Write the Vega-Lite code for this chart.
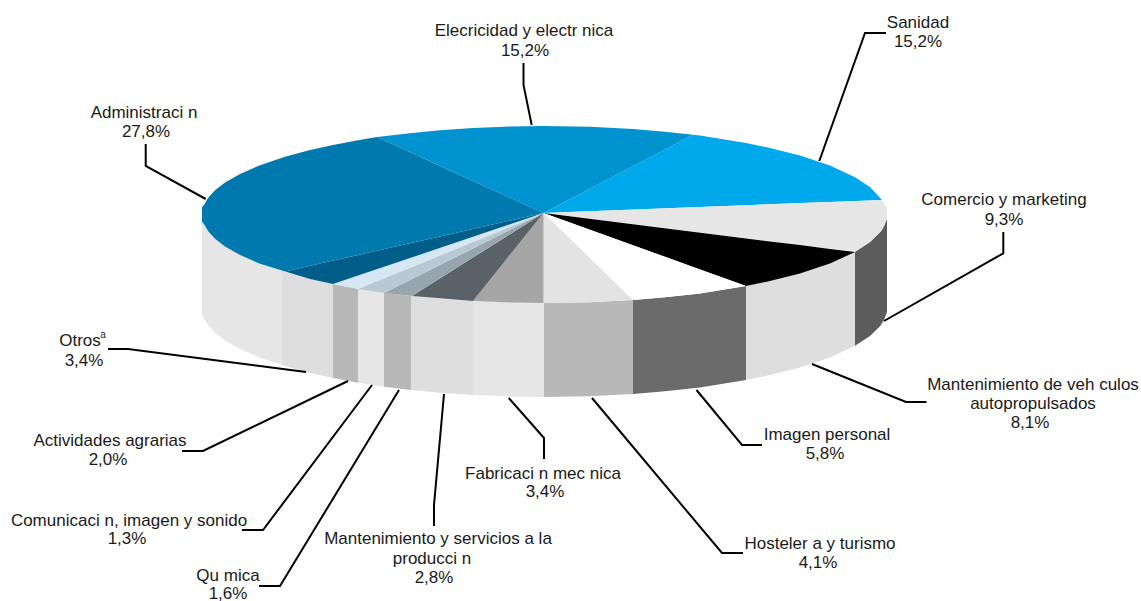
{"$schema":"https://vega.github.io/schema/vega-lite/v6.json","width":1141,"height":601,"padding":0,"autosize":{"type":"none"},"background":"white","config":{"view":{"stroke":null}},
"datasets":{
"walls":[
{"s":"w1","x":202,"y":222,"y2":315},{"s":"w1","x":204,"y":224,"y2":318},{"s":"w1","x":208,"y":231,"y2":325},{"s":"w1","x":215,"y":238.7,"y2":332.7},{"s":"w1","x":225,"y":246.4,"y2":340.4},{"s":"w1","x":240,"y":255,"y2":349},{"s":"w1","x":260,"y":263.8,"y2":357.8},{"s":"w1","x":281.5,"y":270.8,"y2":364.8},
{"s":"w2","x":281.5,"y":270.8,"y2":364.8},{"s":"w2","x":285,"y":272,"y2":366},{"s":"w2","x":310,"y":279,"y2":373},{"s":"w2","x":333,"y":284,"y2":378},
{"s":"w3","x":333,"y":284,"y2":378},{"s":"w3","x":358,"y":288.7,"y2":382.7},
{"s":"w4","x":358,"y":288.7,"y2":382.7},{"s":"w4","x":384,"y":292.7,"y2":386.7},
{"s":"w5","x":384,"y":292.7,"y2":386.7},{"s":"w5","x":411,"y":296,"y2":390},
{"s":"w6","x":411,"y":296,"y2":390},{"s":"w6","x":440,"y":298.8,"y2":392.8},{"s":"w6","x":473,"y":301.1,"y2":395.1},
{"s":"w7","x":473,"y":301.1,"y2":395.1},{"s":"w7","x":510,"y":302.5,"y2":396.5},{"s":"w7","x":544,"y":303,"y2":397},
{"s":"w8","x":544,"y":303,"y2":397},{"s":"w8","x":590,"y":302.2,"y2":396.2},{"s":"w8","x":633,"y":300,"y2":394},
{"s":"w9","x":633,"y":300,"y2":394},{"s":"w9","x":665,"y":297.3,"y2":391.3},{"s":"w9","x":700,"y":293.4,"y2":387.4},{"s":"w9","x":746,"y":286.1,"y2":380.1},
{"s":"w10","x":746,"y":286.1,"y2":380.1},{"s":"w10","x":770,"y":281.1,"y2":375},{"s":"w10","x":800,"y":273.4,"y2":367.4},{"s":"w10","x":830,"y":263.4,"y2":357.4},{"s":"w10","x":855,"y":251.8,"y2":345.8},
{"s":"w11","x":855,"y":251.8,"y2":345.8},{"s":"w11","x":870,"y":242,"y2":336},{"s":"w11","x":880,"y":232.3,"y2":326.3},{"s":"w11","x":884,"y":226.2,"y2":320},{"s":"w11","x":887,"y":218,"y2":312}
],
"slices":[
{"s":"Electricidad","x":377,"y":137,"y2":137},{"s":"Electricidad","x":412,"y":132.9,"y2":153},{"s":"Electricidad","x":440,"y":130.2,"y2":165.8},{"s":"Electricidad","x":473,"y":127.9,"y2":180.9},{"s":"Electricidad","x":510,"y":126.5,"y2":197.7},{"s":"Electricidad","x":543.5,"y":126,"y2":213},{"s":"Electricidad","x":590,"y":126.8,"y2":188.7},{"s":"Electricidad","x":633,"y":129,"y2":166.2},{"s":"Electricidad","x":665,"y":131.7,"y2":149.5},{"s":"Electricidad","x":693,"y":134.8,"y2":134.8},
{"s":"Sanidad","x":543.5,"y":213,"y2":213},{"s":"Sanidad","x":693,"y":134.8,"y2":207.3},{"s":"Sanidad","x":700,"y":135.6,"y2":207},{"s":"Sanidad","x":746,"y":142.9,"y2":205.2},{"s":"Sanidad","x":770,"y":147.9,"y2":204.3},{"s":"Sanidad","x":800,"y":155.6,"y2":203.1},{"s":"Sanidad","x":830,"y":165.6,"y2":202},{"s":"Sanidad","x":855,"y":177.2,"y2":201},{"s":"Sanidad","x":870,"y":187,"y2":200.5},{"s":"Sanidad","x":882,"y":200,"y2":200},
{"s":"Comercio","x":543.5,"y":213,"y2":213},{"s":"Comercio","x":855,"y":201,"y2":252},{"s":"Comercio","x":870,"y":200.5,"y2":242},{"s":"Comercio","x":880,"y":200.1,"y2":232.3},{"s":"Comercio","x":882,"y":200,"y2":230},{"s":"Comercio","x":884,"y":203,"y2":226.2},{"s":"Comercio","x":887,"y":208,"y2":219},
{"s":"Vehiculos","x":543.5,"y":213,"y2":213},{"s":"Vehiculos","x":746,"y":238.4,"y2":286.1},{"s":"Vehiculos","x":770,"y":241.4,"y2":281.1},{"s":"Vehiculos","x":800,"y":245.1,"y2":273.4},{"s":"Vehiculos","x":830,"y":248.9,"y2":263.4},{"s":"Vehiculos","x":855,"y":252,"y2":252},
{"s":"Imagen","x":543.5,"y":213,"y2":213},{"s":"Imagen","x":633,"y":245.3,"y2":300},{"s":"Imagen","x":665,"y":256.8,"y2":297.3},{"s":"Imagen","x":700,"y":269.4,"y2":293.4},{"s":"Imagen","x":746,"y":286,"y2":286},
{"s":"Hosteleria","x":543.5,"y":213,"y2":303},{"s":"Hosteleria","x":590,"y":258.2,"y2":302.2},{"s":"Hosteleria","x":633,"y":300,"y2":300},
{"s":"Fabricacion","x":473,"y":301,"y2":301},{"s":"Fabricacion","x":510,"y":254.8,"y2":302.5},{"s":"Fabricacion","x":543.5,"y":213,"y2":303},
{"s":"Servicios","x":412,"y":296,"y2":296},{"s":"Servicios","x":473,"y":257.5,"y2":301},{"s":"Servicios","x":510,"y":234.2,"y2":254.8},{"s":"Servicios","x":543.5,"y":213,"y2":213},
{"s":"Quimica","x":384,"y":293,"y2":293},{"s":"Quimica","x":412,"y":279,"y2":296},{"s":"Quimica","x":473,"y":248.4,"y2":257.5},{"s":"Quimica","x":543.5,"y":213,"y2":213},
{"s":"Comunicacion","x":358,"y":289,"y2":289},{"s":"Comunicacion","x":384,"y":278.3,"y2":293},{"s":"Comunicacion","x":412,"y":267,"y2":279},{"s":"Comunicacion","x":473,"y":241.9,"y2":248.4},{"s":"Comunicacion","x":543.5,"y":213,"y2":213},
{"s":"Agrarias","x":333,"y":284,"y2":284},{"s":"Agrarias","x":358,"y":275.6,"y2":289},{"s":"Agrarias","x":384,"y":266.8,"y2":278.3},{"s":"Agrarias","x":473,"y":236.8,"y2":241.9},{"s":"Agrarias","x":543.5,"y":213,"y2":213},
{"s":"Otros","x":285,"y":271.5,"y2":271.5},{"s":"Otros","x":310,"y":265.8,"y2":279},{"s":"Otros","x":333,"y":260.6,"y2":284},{"s":"Otros","x":358,"y":255,"y2":275.6},{"s":"Otros","x":473,"y":229,"y2":236.8},{"s":"Otros","x":543.5,"y":213,"y2":213},
{"s":"Administracion","x":202,"y":207,"y2":222},{"s":"Administracion","x":204,"y":205,"y2":224},{"s":"Administracion","x":208,"y":198,"y2":231},{"s":"Administracion","x":215,"y":190.3,"y2":238.7},{"s":"Administracion","x":225,"y":182.6,"y2":246.4},{"s":"Administracion","x":240,"y":174,"y2":255},{"s":"Administracion","x":260,"y":165.2,"y2":263.8},{"s":"Administracion","x":285,"y":156.7,"y2":271.5},{"s":"Administracion","x":310,"y":150,"y2":265.8},{"s":"Administracion","x":333,"y":144.9,"y2":260.6},{"s":"Administracion","x":358,"y":140.3,"y2":255},{"s":"Administracion","x":377,"y":137,"y2":250.7},{"s":"Administracion","x":412,"y":153,"y2":242.8},{"s":"Administracion","x":473,"y":180.9,"y2":229},{"s":"Administracion","x":510,"y":197.7,"y2":220.6},{"s":"Administracion","x":543.5,"y":213,"y2":213}
],
"leaders":[
{"n":"Electricidad","i":1,"x":523.5,"y":63},{"n":"Electricidad","i":2,"x":523.5,"y":85},{"n":"Electricidad","i":3,"x":531.7,"y":125},
{"n":"Sanidad","i":1,"x":886,"y":33},{"n":"Sanidad","i":2,"x":865,"y":33},{"n":"Sanidad","i":3,"x":819.3,"y":161},
{"n":"Administracion","i":1,"x":145.7,"y":144},{"n":"Administracion","i":2,"x":145.7,"y":166},{"n":"Administracion","i":3,"x":205.7,"y":199},
{"n":"Comercio","i":1,"x":1003.3,"y":232},{"n":"Comercio","i":2,"x":1003.3,"y":253.3},{"n":"Comercio","i":3,"x":884,"y":321},
{"n":"Vehiculos","i":1,"x":926.5,"y":402},{"n":"Vehiculos","i":2,"x":906,"y":402},{"n":"Vehiculos","i":3,"x":812,"y":364},
{"n":"Imagen","i":1,"x":762,"y":445},{"n":"Imagen","i":2,"x":742,"y":445},{"n":"Imagen","i":3,"x":696.5,"y":390},
{"n":"Hosteleria","i":1,"x":743,"y":553},{"n":"Hosteleria","i":2,"x":722,"y":553},{"n":"Hosteleria","i":3,"x":592,"y":398},
{"n":"Fabricacion","i":1,"x":544,"y":459},{"n":"Fabricacion","i":2,"x":544,"y":438},{"n":"Fabricacion","i":3,"x":508.7,"y":398},
{"n":"Servicios","i":1,"x":434,"y":526},{"n":"Servicios","i":2,"x":434,"y":505},{"n":"Servicios","i":3,"x":444,"y":394},
{"n":"Quimica","i":1,"x":259,"y":586},{"n":"Quimica","i":2,"x":280,"y":586},{"n":"Quimica","i":3,"x":399,"y":390},
{"n":"Comunicacion","i":1,"x":242,"y":530},{"n":"Comunicacion","i":2,"x":263,"y":530},{"n":"Comunicacion","i":3,"x":372,"y":385},
{"n":"Agrarias","i":1,"x":182,"y":451},{"n":"Agrarias","i":2,"x":203,"y":451},{"n":"Agrarias","i":3,"x":348,"y":381},
{"n":"Otros","i":1,"x":108,"y":349},{"n":"Otros","i":2,"x":128,"y":349},{"n":"Otros","i":3,"x":306,"y":372}
],
"labels":[
{"t":"Elecricidad y electr nica","x":524,"y":30},{"t":"15,2%","x":525,"y":50},
{"t":"Sanidad","x":918,"y":22},{"t":"15,2%","x":918,"y":41},
{"t":"Administraci n","x":144,"y":112},{"t":"27,8%","x":146,"y":131},
{"t":"Comercio y marketing","x":1004,"y":199},{"t":"9,3%","x":1004,"y":219},
{"t":"Mantenimiento de veh culos","x":1033,"y":384},{"t":"autopropulsados","x":1033,"y":403},{"t":"8,1%","x":1030,"y":422},
{"t":"Imagen personal","x":827,"y":434},{"t":"5,8%","x":825,"y":453},
{"t":"Hosteler a y turismo","x":820,"y":543},{"t":"4,1%","x":818,"y":562},
{"t":"Fabricaci n mec nica","x":543,"y":473},{"t":"3,4%","x":545,"y":491},
{"t":"Mantenimiento y servicios a la","x":438,"y":538},{"t":"producci n","x":432,"y":558},{"t":"2,8%","x":434,"y":577},
{"t":"Qu mica","x":228,"y":575},{"t":"1,6%","x":228,"y":593},
{"t":"Comunicaci n, imagen y sonido","x":129,"y":520},{"t":"1,3%","x":127,"y":538},
{"t":"Actividades agrarias","x":110,"y":440},{"t":"2,0%","x":108,"y":459},
{"t":"Otros","x":80,"y":340},{"t":"3,4%","x":84,"y":360}
],
"sup":[{"t":"a","x":103,"y":335}]
},
"encoding":{"x":{"field":"x","type":"quantitative","scale":{"domain":[0,1141],"nice":false,"zero":false},"axis":null},"y":{"field":"y","type":"quantitative","scale":{"domain":[601,0],"nice":false,"zero":false},"axis":null}},
"layer":[
{"data":{"name":"walls"},"mark":{"type":"area","orient":"vertical"},"encoding":{"y2":{"field":"y2"},"color":{"field":"s","type":"nominal","legend":null,"scale":{"domain":["w1","w2","w3","w4","w5","w6","w7","w8","w9","w10","w11"],"range":["#E6E6E6","#DEDEDE","#B8B8B8","#E6E6E6","#B8B8B8","#DEDEDE","#E6E6E6","#B8B8B8","#6B6B6B","#DEDEDE","#5C5C5C"]}}}},
{"data":{"name":"slices"},"mark":{"type":"area","orient":"vertical"},"encoding":{"y2":{"field":"y2"},"color":{"field":"s","type":"nominal","legend":null,"scale":{"domain":["Electricidad","Sanidad","Comercio","Vehiculos","Imagen","Hosteleria","Fabricacion","Servicios","Quimica","Comunicacion","Agrarias","Otros","Administracion"],"range":["#0093D0","#00A9EC","#E6E6E6","#000000","#FFFFFF","#E3E3E3","#A6A6A6","#5A6268","#97A6AE","#B8C9D3","#D6E7F3","#005E88","#0079AE"]}}}},
{"data":{"name":"leaders"},"mark":{"type":"line","color":"#000000","strokeWidth":2},"encoding":{"detail":{"field":"n"},"order":{"field":"i","type":"quantitative"}}},
{"data":{"name":"labels"},"mark":{"type":"text","font":"Liberation Sans","fontSize":17,"dy":1,"color":"#1A1A1A","align":"center","baseline":"middle"},"encoding":{"text":{"field":"t"}}},
{"data":{"name":"sup"},"mark":{"type":"text","font":"Liberation Sans","fontSize":10,"color":"#1A1A1A","align":"center","baseline":"middle"},"encoding":{"text":{"field":"t"}}}
],
"resolve":{"scale":{"color":"independent"}}
}
